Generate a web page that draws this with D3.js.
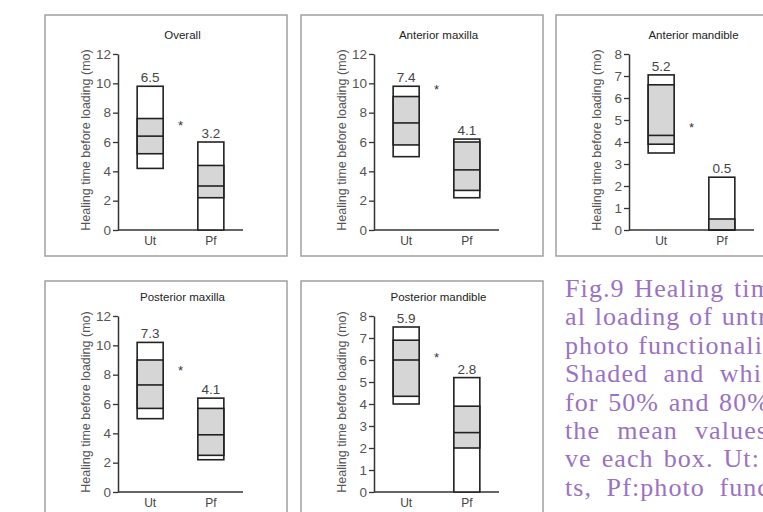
<!DOCTYPE html>
<html>
<head>
<meta charset="utf-8">
<script src="https://cdn.jsdelivr.net/npm/d3@7"></script>
<style>
  html, body { margin: 0; padding: 0; background: #fff; overflow: hidden; }
  svg { display: block; }
</style>
</head>
<body>
<div id="chart"></div>
<script>
// panel data
const regions = ["Overall", "Anterior maxilla", "Anterior mandible", "Posterior maxilla", "Posterior mandible"];
const groups = ["Ut", "Pf"];
const yMax = [12, 12, 8, 12, 8];
const yStep = [2, 2, 1, 2, 1];
// [p10, p25, median, p75, p90]
const utStats = [
  [4.2, 5.2, 6.4, 7.6, 9.8],
  [5.0, 5.8, 7.3, 9.1, 9.8],
  [3.5, 3.9, 4.3, 6.6, 7.05],
  [5.0, 5.7, 7.3, 9.0, 10.2],
  [4.0, 4.35, 6.0, 6.9, 7.5]
];
const pfStats = [
  [0, 2.2, 3.0, 4.4, 6.0],
  [2.2, 2.7, 4.1, 6.0, 6.2],
  [0, 0, 0, 0.5, 2.4],
  [2.2, 2.5, 3.9, 5.7, 6.4],
  [0, 2.0, 2.7, 3.9, 5.2]
];
const utMeans = [6.5, 7.4, 5.2, 7.3, 5.9];
const pfMeans = [3.2, 4.1, 0.5, 4.1, 2.8];
const starAt = [7.2, 9.7, 4.75, 8.4, 6.2];

const captionLines = [
  "Fig.9 Healing tim",
  "al loading of untr",
  "photo functionali",
  "Shaded and whi",
  "for 50% and 80%",
  "the mean values",
  "ve each box. Ut:",
  "ts, Pf:photo func"
];

const width = 763, height = 512;
const frameW = 242, frameH = 241;
const framePos = [[45, 15], [301, 15], [556, 15], [45, 281], [301, 281]];
const innerShift = [0, 0, 0, -4, -4];

const sans = "'Liberation Sans', Arial, sans-serif";

const svg = d3.select("#chart").append("svg")
  .attr("width", width)
  .attr("height", height);

function drawPanel(i) {
  const [fx, fy] = framePos[i];

  svg.append("rect")
    .attr("x", fx).attr("y", fy)
    .attr("width", frameW).attr("height", frameH)
    .attr("fill", "#fff")
    .attr("stroke", "#a0a0a0")
    .attr("stroke-width", 1.5);

  const g = svg.append("g").attr("transform", `translate(${fx},${fy + innerShift[i]})`);

  const axisX = 73, axisEnd = 198;
  const y = d3.scaleLinear().domain([0, yMax[i]]).range([215, 39]);
  const x = d3.scalePoint().domain(groups).range([axisX, axisEnd]).padding(0.53);
  const boxW = 26;

  // title
  g.append("text")
    .attr("x", (axisX + axisEnd) / 2 + 2)
    .attr("y", 24)
    .attr("text-anchor", "middle")
    .attr("font-family", sans)
    .attr("font-size", 11.5)
    .attr("fill", "#222")
    .text(regions[i]);

  // y axis
  const yAxis = d3.axisLeft(y)
    .tickValues(d3.range(0, yMax[i] + 0.001, yStep[i]))
    .tickSize(5)
    .tickPadding(2)
    .tickSizeOuter(0)
    .tickFormat(d3.format("d"));
  const ya = g.append("g").attr("transform", `translate(${axisX},0)`).call(yAxis);
  ya.select(".domain").attr("stroke", "#333").attr("stroke-width", 1.5);
  ya.selectAll(".tick line").attr("stroke", "#333").attr("stroke-width", 1.3);
  ya.selectAll(".tick text")
    .attr("font-family", sans)
    .attr("font-size", 13.5)
    .attr("fill", "#555");

  // x axis line + category labels
  g.append("line")
    .attr("x1", axisX).attr("x2", axisEnd)
    .attr("y1", y(0)).attr("y2", y(0))
    .attr("stroke", "#333").attr("stroke-width", 1.5);
  g.selectAll(".cat").data(groups).enter().append("text")
    .attr("class", "cat")
    .attr("x", d => x(d))
    .attr("y", y(0) + 15)
    .attr("text-anchor", "middle")
    .attr("font-family", sans)
    .attr("font-size", 12)
    .attr("fill", "#444")
    .text(d => d);

  // y label
  g.append("text")
    .attr("transform", `translate(45,${(y(0) + y(yMax[i])) / 2 - 2}) rotate(-90)`)
    .attr("text-anchor", "middle")
    .attr("font-family", sans)
    .attr("font-size", 12.5)
    .attr("fill", "#555")
    .text("Healing time before loading (mo)");

  // boxes
  const boxes = [
    { name: "Ut", s: utStats[i], mean: utMeans[i] },
    { name: "Pf", s: pfStats[i], mean: pfMeans[i] }
  ];
  boxes.forEach(b => {
    const cx = x(b.name), left = cx - boxW / 2;
    g.append("rect")
      .attr("x", left).attr("y", y(b.s[4]))
      .attr("width", boxW).attr("height", y(b.s[0]) - y(b.s[4]))
      .attr("fill", "#fff").attr("stroke", "#222").attr("stroke-width", 1.6);
    g.append("rect")
      .attr("x", left).attr("y", y(b.s[3]))
      .attr("width", boxW).attr("height", y(b.s[1]) - y(b.s[3]))
      .attr("fill", "#d6d6d6").attr("stroke", "#222").attr("stroke-width", 1.6);
    g.append("line")
      .attr("x1", left).attr("x2", left + boxW)
      .attr("y1", y(b.s[2])).attr("y2", y(b.s[2]))
      .attr("stroke", "#222").attr("stroke-width", 1.6);
    g.append("text")
      .attr("x", cx)
      .attr("y", y(b.s[4]) - 4)
      .attr("text-anchor", "middle")
      .attr("font-family", sans)
      .attr("font-size", 13.5)
      .attr("fill", "#444")
      .text(d3.format(".1f")(b.mean));
  });

  // significance mark
  g.append("text")
    .attr("x", (x("Ut") + x("Pf")) / 2)
    .attr("y", y(starAt[i]) + 6)
    .attr("text-anchor", "middle")
    .attr("font-family", sans)
    .attr("font-size", 13)
    .attr("fill", "#333")
    .text("*");
}

regions.forEach((r, i) => drawPanel(i));

// caption, justified lines cut by the right edge
const capX = 565, capY0 = 297, capStep = 28.4;
const capEnd = [772, 768, 763, 762, 770, 768, 760, 770];
captionLines.forEach((line, i) => {
  const t = svg.append("text")
    .attr("x", capX)
    .attr("y", capY0 + i * capStep)
    .attr("font-family", "'Liberation Serif', 'Times New Roman', serif")
    .attr("font-size", 26)
    .attr("letter-spacing", 1.1)
    .attr("fill", "#9a72c2")
    .text(line);
  const natural = t.node().getComputedTextLength();
  const spaces = (line.match(/ /g) || []).length;
  if (spaces > 0) {
    t.attr("word-spacing", ((capEnd[i] - capX) - natural) / spaces);
  }
});
</script>
</body>
</html>
